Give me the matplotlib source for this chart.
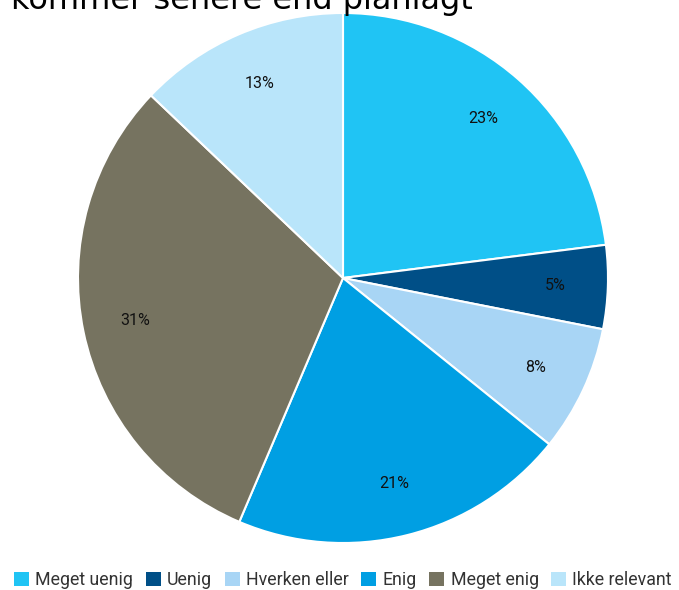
import matplotlib.pyplot as plt
from matplotlib.patches import Patch

# survey answers, share of respondents
categories = ['Meget uenig', 'Uenig', 'Hverken eller', 'Enig', 'Meget enig', 'Ikke relevant']
values = [23.0, 5.1, 7.7, 20.6, 30.7, 12.9]
labels = ['23%', '5%', '8%', '21%', '31%', '13%']
colors = ['#20C4F4', '#004F87', '#A8D5F5', '#009FE3', '#767360', '#B9E5FA']

W, H = 679, 590
fig = plt.figure(figsize=(W / 100, H / 100), dpi=100)

cx, cy, r = 343, 278, 265
ax = fig.add_axes([(cx - r) / W, 1 - (cy + r) / H, 2 * r / W, 2 * r / H])

wedges, texts = ax.pie(values, colors=colors, startangle=90, counterclock=False,
                       labels=labels, labeldistance=0.8,
                       wedgeprops=dict(edgecolor='white', linewidth=1.5),
                       textprops=dict(fontsize=11.5, family='Roboto', color='#111111',
                                      ha='center', va='center'))
ax.set_xlim(-1, 1)
ax.set_ylim(-1, 1)
ax.axis('off')

# title sits partly above the top edge
fig.text(11 / W, 1 - 9 / H, 'kommer senere end planlagt', fontsize=23,
         family='DejaVu Sans', ha='left', va='baseline')

handles = [Patch(facecolor=c, edgecolor='none') for c in colors]
leg = fig.legend(handles, categories, loc='center', bbox_to_anchor=(343 / W, 1 - 580 / H),
                 ncol=6, frameon=False, handlelength=0.85, handleheight=0.85,
                 handletextpad=0.35, columnspacing=0.7,
                 prop=dict(family='Roboto', size=12.8))
for t in leg.get_texts():
    t.set_color('#333333')

fig.savefig('out.png', dpi=100)
